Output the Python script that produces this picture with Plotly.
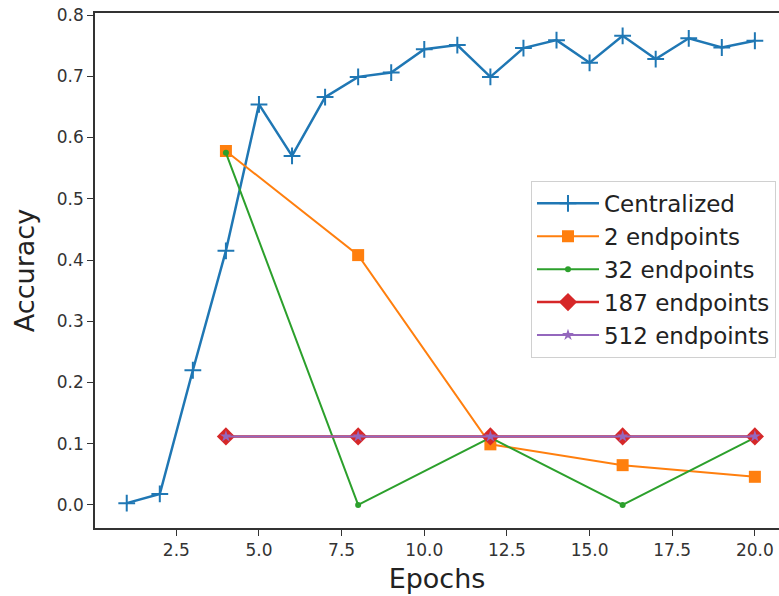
import plotly.graph_objects as go

epochs_central = list(range(1, 21))
acc_central = [0.003, 0.018, 0.22, 0.415, 0.654, 0.570, 0.666, 0.699, 0.706, 0.744,
               0.751, 0.699, 0.746, 0.759, 0.722, 0.766, 0.728, 0.762, 0.747, 0.758]

epochs_fed = [4, 8, 12, 16, 20]
acc_2 = [0.578, 0.408, 0.099, 0.065, 0.046]
acc_32 = [0.575, 0.0, 0.110, 0.0, 0.110]
acc_187 = [0.112, 0.112, 0.112, 0.112, 0.112]
acc_512 = [0.112, 0.112, 0.112, 0.112, 0.112]

names = ["Centralized", "2 endpoints", "32 endpoints", "187 endpoints", "512 endpoints"]
colors = ["#1f77b4", "#ff7f0e", "#2ca02c", "#d62728", "#9467bd"]

fig = go.Figure()
fig.add_trace(go.Scatter(x=epochs_central, y=acc_central, name=names[0], mode="lines+markers",
                         line=dict(color=colors[0], width=2.5),
                         marker=dict(symbol="cross-thin", size=12, line=dict(color=colors[0], width=2))))
fig.add_trace(go.Scatter(x=epochs_fed, y=acc_2, name=names[1], mode="lines+markers",
                         line=dict(color=colors[1], width=2),
                         marker=dict(symbol="square", size=12, color=colors[1])))
fig.add_trace(go.Scatter(x=epochs_fed, y=acc_32, name=names[2], mode="lines+markers",
                         line=dict(color=colors[2], width=2),
                         marker=dict(symbol="circle", size=6, color=colors[2])))
fig.add_trace(go.Scatter(x=epochs_fed, y=acc_187, name=names[3], mode="lines+markers",
                         line=dict(color=colors[3], width=2.5),
                         marker=dict(symbol="diamond", size=14, color=colors[3])))
fig.add_trace(go.Scatter(x=epochs_fed, y=acc_512, name=names[4], mode="lines+markers",
                         line=dict(color=colors[4], width=2),
                         marker=dict(symbol="star", size=9, color=colors[4])))

font_family = "DejaVu Sans"
fig.update_layout(
    width=779, height=596,
    margin=dict(l=95, r=0, t=13, b=68),
    paper_bgcolor="white", plot_bgcolor="white",
    font=dict(family=font_family, color="#222222"),
    showlegend=True,
    legend=dict(x=0.9956, xanchor="right", y=0.674, yanchor="top",
                bgcolor="white", bordercolor="#d0d0d0", borderwidth=1,
                font=dict(size=23, family=font_family, color="#222222"),
                itemwidth=62, tracegroupgap=0),
    xaxis=dict(range=[0.04, 20.73], tickvals=[2.5, 5.0, 7.5, 10.0, 12.5, 15.0, 17.5, 20.0],
               ticktext=["2.5", "5.0", "7.5", "10.0", "12.5", "15.0", "17.5", "20.0"],
               showgrid=False, zeroline=False, showline=True, linecolor="#333333", linewidth=1.5,
               mirror=True, ticks="outside", ticklen=6, tickcolor="#333333",
               tickfont=dict(size=17, color="#333333"),
               title=dict(text="Epochs", font=dict(size=27, color="#222222"), standoff=10)),
    yaxis=dict(range=[-0.0376, 0.8033], tickvals=[0.0, 0.1, 0.2, 0.3, 0.4, 0.5, 0.6, 0.7, 0.8],
               ticktext=["0.0", "0.1", "0.2", "0.3", "0.4", "0.5", "0.6", "0.7", "0.8"],
               showgrid=False, zeroline=False, showline=True, linecolor="#333333", linewidth=1.5,
               ticks="outside", ticklen=6, tickcolor="#333333",
               tickfont=dict(size=17, color="#333333"),
               title=dict(text="Accuracy", font=dict(size=27, color="#222222"), standoff=14)),
)

fig.write_html("out.html")
